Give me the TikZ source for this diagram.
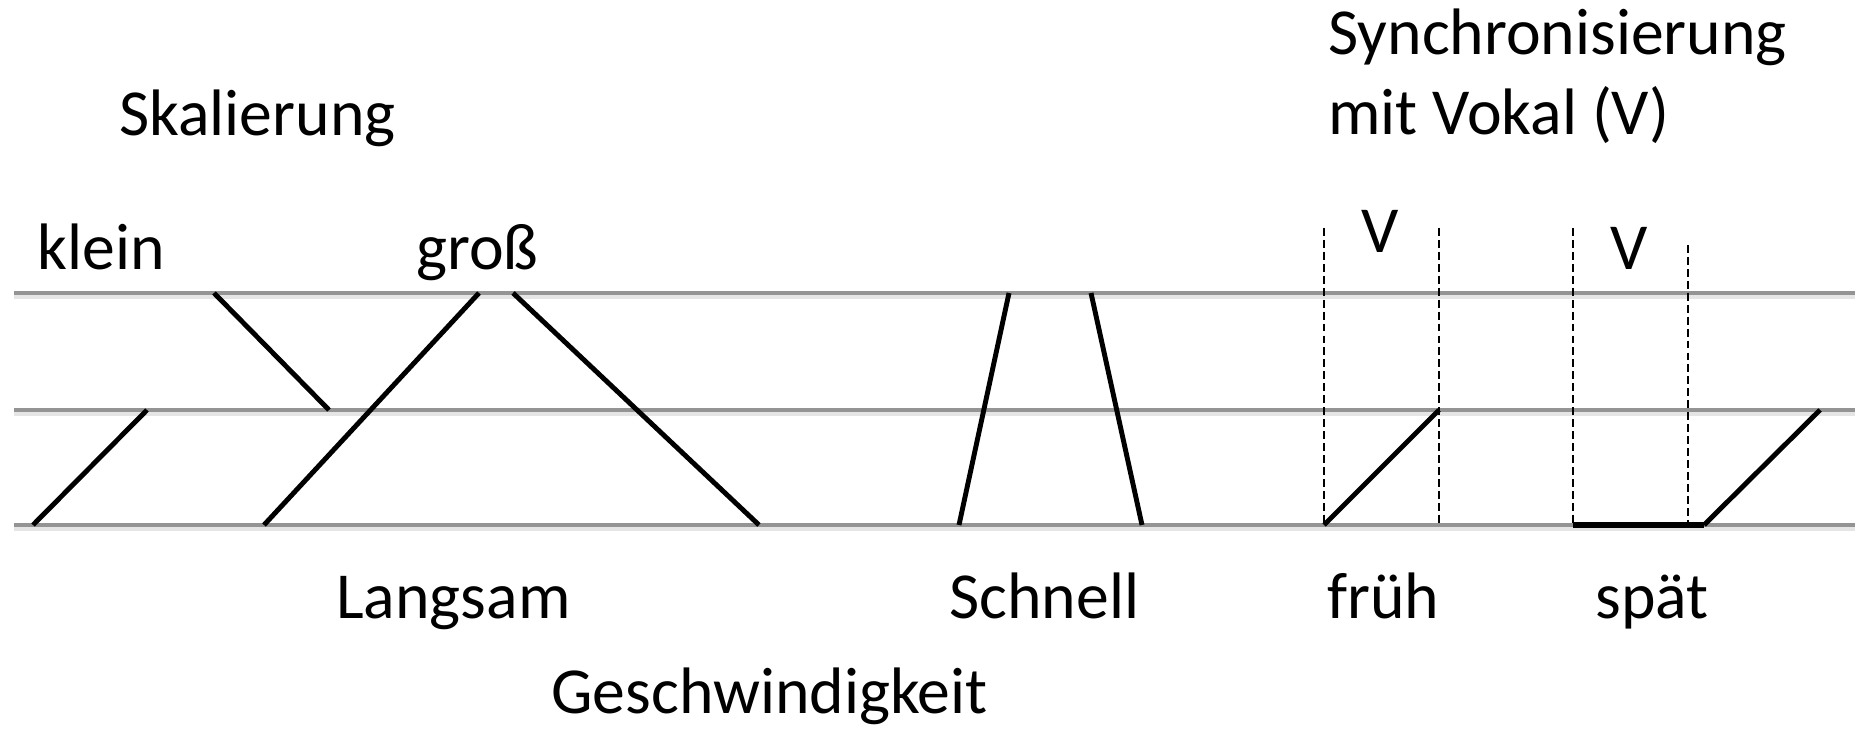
\documentclass[tikz,border=0pt]{standalone}
\usepackage{fontspec}
\setmainfont{Carlito}
\begin{document}
\begin{tikzpicture}[x=0.02cm,y=-0.02cm,
  staff/.style={draw=black!42, line width=1.9pt},
  staffshadow/.style={draw=black!10, line width=3pt},
  stroke/.style={draw=black, line width=2.8pt},
  heavy/.style={draw=black, line width=3.8pt},
  vline/.style={draw=black, line width=0.85pt, dash pattern=on 4.5pt off 2.3pt},
  lbl/.style={anchor=base west, inner sep=0pt, font=\fontsize{37.4}{44}\selectfont},
  vlbl/.style={anchor=base, inner sep=0pt, font=\fontsize{37.4}{44}\selectfont}]
\useasboundingbox (0,0) rectangle (1859,729);
% staff lines
\coordinate (t0) at (14,293); \coordinate (t1) at (1855,293);
\coordinate (m0) at (14,410); \coordinate (m1) at (1855,410);
\coordinate (b0) at (14,525); \coordinate (b1) at (1855,525);
\foreach \a/\b in {t0/t1,m0/m1,b0/b1}{
  \draw[staffshadow] ([yshift=-0.07cm]\a) -- ([yshift=-0.07cm]\b);
  \draw[staff] (\a) -- (\b);
}
% klein
\coordinate (k1a) at (33,525); \coordinate (k1b) at (147,410);
\coordinate (k2a) at (214,293); \coordinate (k2b) at (329,410);
\draw[stroke] (k1a) -- (k1b);
\draw[stroke] (k2a) -- (k2b);
% gross
\coordinate (g1a) at (264,525); \coordinate (g1b) at (479,293);
\coordinate (g2a) at (513,293); \coordinate (g2b) at (759,525);
\draw[stroke] (g1a) -- (g1b);
\draw[stroke] (g2a) -- (g2b);
% schnell
\coordinate (s1a) at (959,525); \coordinate (s1b) at (1009,293);
\coordinate (s2a) at (1091,293); \coordinate (s2b) at (1142,525);
\draw[stroke] (s1a) -- (s1b);
\draw[stroke] (s2a) -- (s2b);
% frueh
\coordinate (f1t) at (1324,228); \coordinate (f1b) at (1324,525);
\coordinate (f2t) at (1439,228); \coordinate (f2b) at (1439,525);
\coordinate (f2m) at (1439,410);
\draw[vline] (f1t) -- (f1b);
\draw[vline] (f2t) -- (f2b);
\draw[stroke] (f1b) -- (f2m);
% spaet
\coordinate (p1t) at (1573,228); \coordinate (p1b) at (1573,525);
\coordinate (p2t) at (1688,245); \coordinate (p2b) at (1688,525);
\coordinate (p3) at (1704,525); \coordinate (p4) at (1820,410);
\draw[vline] (p1t) -- (p1b);
\draw[vline] (p2t) -- (p2b);
\draw[heavy] (p1b) -- (p3);
\draw[stroke] (p3) -- (p4);
% labels
\node[lbl] (skal) at (119,136) {Skalierung};
\node[lbl] (klein) at (37,270) {klein};
\node[lbl] (gross) at (416,270) {groß};
\node[lbl] (lang) at (336,618) {Langsam};
\node[lbl] (schn) at (949,618) {Schnell};
\node[lbl] (fru) at (1327,618) {früh};
\node[lbl] (spa) at (1595,618) {spät};
\node[lbl] (gesch) at (551,713) {Geschwindigkeit};
\node[lbl] (syn1) at (1328,55) {Synchronisierung};
\node[lbl] (syn2) at (1328,135) {mit Vokal (V)};
\node[vlbl] (v1) at (1380,253) {V};
\node[vlbl] (v2) at (1629,270) {V};
\end{tikzpicture}
\end{document}
